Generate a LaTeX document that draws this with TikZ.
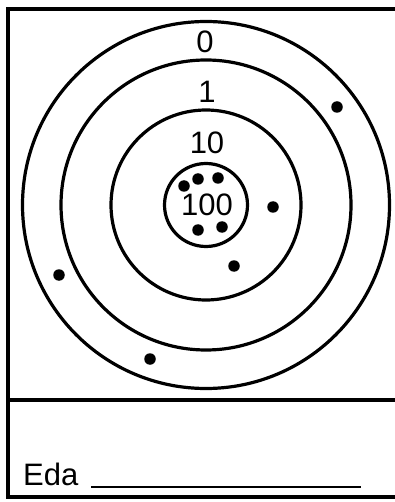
\documentclass[tikz,border=0pt]{standalone}
\usepackage{fontspec}
\setmainfont{Liberation Sans}
\begin{document}
\begin{tikzpicture}[x=1pt,y=-1pt,
  ring/.style={draw=black,line width=3.2pt},
  hit/.style={fill=black,circle,inner sep=0pt,minimum size=11.5pt},
  lbl/.style={font=\fontsize{31}{33}\selectfont,inner sep=0pt}]
\useasboundingbox (0,0) rectangle (395,502);
\draw[line width=3.4pt] (8,9) rectangle (400,497);
\draw[line width=3.4pt] (8,400) -- (400,400);
\node[ring,circle,minimum size=367pt] (r0) at (206,205) {};
\node[ring,circle,minimum size=290pt] (r1) at (206,205) {};
\node[ring,circle,minimum size=190pt] (r2) at (206,205) {};
\node[ring,circle,minimum size=83pt] (r3) at (206,205) {};
\node[lbl] (t0) at (205,42) {0};
\node[lbl] (t1) at (207,92) {1};
\node[lbl] (t2) at (207,143) {10};
\node[lbl] (t3) at (207,205) {100};
\node[hit] (h1) at (337,107) {};
\node[hit] (h2) at (273,207) {};
\node[hit] (h3) at (234,266) {};
\node[hit] (h4) at (59,275) {};
\node[hit] (h5) at (150,359) {};
\node[hit] (h6) at (184,186) {};
\node[hit] (h7) at (198,179) {};
\node[hit] (h8) at (218,178) {};
\node[hit] (h9) at (198,230) {};
\node[hit] (h10) at (222,227) {};
\node[lbl,anchor=base west] (eda) at (23,485) {Eda};
\coordinate (u1) at (91,487);
\coordinate (u2) at (361,487);
\draw[line width=1.6pt] (u1) -- (u2);
\end{tikzpicture}
\end{document}
